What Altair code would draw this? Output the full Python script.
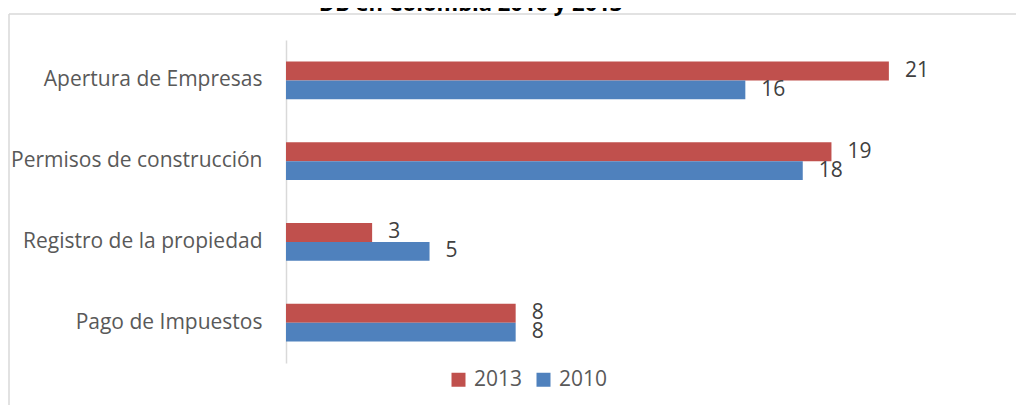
import altair as alt
import pandas as pd

categories = ["Apertura de Empresas", "Permisos de construcción",
              "Registro de la propiedad", "Pago de Impuestos"]
years = ["2013", "2010"]
values_2013 = [21, 19, 3, 8]
values_2010 = [16, 18, 5, 8]
title_text = "DB en Colombia 2010 y 2013"
colors = ["#C0504D", "#4F81BD"]

rows = []
for c, v13, v10 in zip(categories, values_2013, values_2010):
    rows.append({"cat": c, "year": "2013", "value": v13})
    rows.append({"cat": c, "year": "2010", "value": v10})
df = pd.DataFrame(rows)

FONT = "Open Sans"

y = alt.Y("cat:N", sort=categories,
          scale=alt.Scale(paddingInner=0.53, paddingOuter=0.265),
          axis=alt.Axis(title=None, labelFont=FONT, labelFontSize=21,
                        labelColor="#595959", ticks=False, tickSize=0,
                        labelPadding=24, domainColor="#d9d9d9",
                        domainWidth=1.5, grid=False, labelLimit=400))
yoff = alt.YOffset("year:N", sort=years)
x = alt.X("value:Q", scale=alt.Scale(domain=[0, 24], nice=False), axis=None)

bars = alt.Chart(df).mark_bar().encode(
    y=y, yOffset=yoff, x=x,
    color=alt.Color("year:N", sort=years,
                    scale=alt.Scale(domain=years, range=colors),
                    legend=alt.Legend(title=None, orient="none",
                                      direction="horizontal",
                                      legendX=162, legendY=329,
                                      symbolType="square", symbolSize=196,
                                      symbolStrokeWidth=0,
                                      labelFont=FONT, labelFontSize=21,
                                      labelColor="#595959",
                                      columnPadding=10, labelOffset=5,
                                      padding=0))
)

labels = alt.Chart(df).mark_text(align="left", baseline="middle", dx=16,
                                 fontSize=21, font=FONT, color="#404040").encode(
    y=y, yOffset=yoff, x=x, text=alt.Text("value:Q")
)

one = pd.DataFrame({"t": [title_text]})
top_border = alt.Chart(one).mark_rule(color="#d9d9d9", strokeWidth=1.5).encode(
    x=alt.value(-277), x2=alt.value(730), y=alt.value(-26))
left_border = alt.Chart(one).mark_rule(color="#d9d9d9", strokeWidth=1.5).encode(
    x=alt.value(-277), y=alt.value(-26), y2=alt.value(370))
title = alt.Chart(one).mark_text(fontWeight="bold", fontSize=22, font=FONT,
                                 color="#000000", align="center",
                                 baseline="alphabetic").encode(
    x=alt.value(184.5), y=alt.value(-29), text=alt.Text("t:N"))

chart = alt.layer(top_border, left_border, title, bars, labels).properties(
    width=689, height=323,
    autosize=alt.AutoSizeParams(type="none"),
    padding={"left": 278, "top": 32, "right": 41, "bottom": 42},
    background="white",
).configure_view(stroke=None)

chart.save("out.html", embed_options={"renderer": "svg", "actions": False})
